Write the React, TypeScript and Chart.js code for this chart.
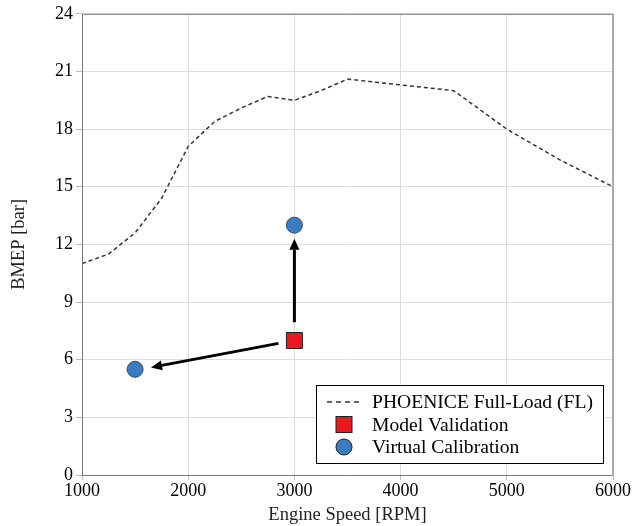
import React, { useEffect, useRef } from "react";
import { Chart, registerables } from "chart.js";

Chart.register(...registerables);

// Full-load curve (rpm, bar)
const flSpeed = [1000, 1250, 1500, 1750, 2000, 2250, 2500, 2750, 3000, 3250, 3500, 4500, 5000, 5500, 6000];
const flBmep = [11.0, 11.5, 12.6, 14.4, 17.1, 18.4, 19.1, 19.7, 19.5, 20.0, 20.6, 20.0, 18.0, 16.4, 15.0];

// Model validation point
const mvSpeed = [3000];
const mvBmep = [7];

// Virtual calibration points
const vcSpeed = [1500, 3000];
const vcBmep = [5.5, 13];

// Arrows: from -> to (rpm, bar)
const arrowFromSpeed = [2850, 3000];
const arrowFromBmep = [6.85, 7.95];
const arrowToSpeed = [1650, 3000];
const arrowToBmep = [5.6, 12.3];

const legendLabels = ["PHOENICE Full-Load (FL)", "Model Validation", "Virtual Calibration"];

const RED = "#e8191e";
const BLUE = "#3a7cbf";
const FONT = "'Liberation Serif', 'Times New Roman', serif";

Chart.defaults.font.family = FONT;

const framePlugin = {
  id: "frame",
  afterDatasetsDraw(chart: any) {
    const { ctx, chartArea: a, scales } = chart;
    const xs = scales.x, ys = scales.y;
    ctx.save();
    // arrows
    ctx.strokeStyle = "#000";
    ctx.fillStyle = "#000";
    ctx.lineWidth = 3;
    for (let i = 0; i < arrowFromSpeed.length; i++) {
      const x1 = xs.getPixelForValue(arrowFromSpeed[i]);
      const y1 = ys.getPixelForValue(arrowFromBmep[i]);
      const x2 = xs.getPixelForValue(arrowToSpeed[i]);
      const y2 = ys.getPixelForValue(arrowToBmep[i]);
      const ang = Math.atan2(y2 - y1, x2 - x1);
      const hl = 11, hw = 5;
      const bx = x2 - hl * Math.cos(ang), by = y2 - hl * Math.sin(ang);
      ctx.beginPath();
      ctx.moveTo(x1, y1);
      ctx.lineTo(bx, by);
      ctx.stroke();
      ctx.beginPath();
      ctx.moveTo(x2, y2);
      ctx.lineTo(bx + hw * Math.sin(ang), by - hw * Math.cos(ang));
      ctx.lineTo(bx - hw * Math.sin(ang), by + hw * Math.cos(ang));
      ctx.closePath();
      ctx.fill();
    }
    // frame
    ctx.lineWidth = 1;
    ctx.strokeStyle = "#777";
    ctx.beginPath();
    ctx.moveTo(a.left + 0.5, a.bottom + 0.5);
    ctx.lineTo(a.left + 0.5, a.top + 0.5);
    ctx.lineTo(a.right, a.top + 0.5);
    ctx.moveTo(a.left, a.bottom + 0.5);
    ctx.lineTo(a.right, a.bottom + 0.5);
    ctx.stroke();
    ctx.strokeStyle = "#aaa";
    ctx.lineWidth = 2;
    ctx.beginPath();
    ctx.moveTo(a.right, a.top);
    ctx.lineTo(a.right, a.bottom + 1);
    ctx.stroke();

    // legend
    const R = a.right - 10, B = a.bottom - 12;
    const W = 287, H = 78;
    const L = R - W, T = B - H;
    ctx.fillStyle = "#fff";
    ctx.fillRect(L, T, W, H);
    ctx.strokeStyle = "#000";
    ctx.lineWidth = 1;
    ctx.strokeRect(L + 0.5, T + 0.5, W, H);
    const symX = L + 28;
    const textX = L + 56;
    const rows = [T + 17, T + 39.5, T + 62];
    ctx.font = `19.6px ${FONT}`;
    ctx.textBaseline = "middle";
    ctx.textAlign = "left";
    // dashed line
    ctx.strokeStyle = "#333";
    ctx.lineWidth = 1.5;
    ctx.setLineDash([5, 4]);
    ctx.beginPath();
    ctx.moveTo(symX - 17, rows[0]);
    ctx.lineTo(symX + 18, rows[0]);
    ctx.stroke();
    ctx.setLineDash([]);
    // square
    ctx.fillStyle = RED;
    ctx.fillRect(symX - 8, rows[1] - 8, 16, 16);
    ctx.strokeStyle = "#222";
    ctx.lineWidth = 1;
    ctx.strokeRect(symX - 8, rows[1] - 8, 16, 16);
    // circle
    ctx.fillStyle = BLUE;
    ctx.beginPath();
    ctx.arc(symX, rows[2], 8, 0, Math.PI * 2);
    ctx.fill();
    ctx.strokeStyle = "#222";
    ctx.stroke();
    ctx.fillStyle = "#000";
    legendLabels.forEach((t, i) => ctx.fillText(t, textX, rows[i] + 1));
    ctx.restore();
  },
};

export default function App() {
  const ref = useRef<HTMLCanvasElement>(null);
  useEffect(() => {
    if (!ref.current) return;
    const chart = new Chart(ref.current, {
      type: "scatter",
      data: {
        datasets: [
          {
            type: "line",
            label: legendLabels[0],
            data: flSpeed.map((x, i) => ({ x, y: flBmep[i] })),
            borderColor: "#333",
            borderWidth: 1.5,
            borderDash: [4, 3],
            pointRadius: 0,
            fill: false,
            tension: 0,
            order: 3,
          },
          {
            label: legendLabels[1],
            data: mvSpeed.map((x, i) => ({ x, y: mvBmep[i] })),
            pointStyle: "rect",
            pointRadius: 11.3,
            backgroundColor: RED,
            borderColor: "#222",
            borderWidth: 1,
            order: 1,
          },
          {
            label: legendLabels[2],
            data: vcSpeed.map((x, i) => ({ x, y: vcBmep[i] })),
            pointStyle: "circle",
            pointRadius: 8,
            backgroundColor: BLUE,
            borderColor: "#2a4d70",
            borderWidth: 1,
            order: 1,
          },
        ],
      },
      options: {
        animation: false,
        responsive: false,
        maintainAspectRatio: false,
        layout: { padding: { top: 12, right: 22, left: 0, bottom: 0 } },
        plugins: { legend: { display: false }, tooltip: { enabled: false } },
        scales: {
          x: {
            type: "linear",
            min: 1000,
            max: 6000,
            ticks: {
              stepSize: 1000,
              color: "#000",
              font: { family: FONT, size: 18 },
              padding: 0,
              maxRotation: 0,
              callback: (v: any) => String(v),
            },
            grid: { color: "#dddddd", tickLength: 5, tickColor: "#bbb" },
            border: { display: false },
            title: { display: true, text: "Engine Speed [RPM]", color: "#222", font: { family: FONT, size: 18.5 }, padding: { top: 0, bottom: 0 } },
            afterFit(s: any) { s.height = 51; },
          },
          y: {
            type: "linear",
            min: 0,
            max: 24,
            ticks: {
              stepSize: 3,
              color: "#000",
              font: { family: FONT, size: 18 },
              padding: 3,
              callback: (v: any) => String(v),
            },
            grid: { color: "#dddddd", tickLength: 6, tickColor: "#bbb" },
            border: { display: false },
            title: { display: true, text: "BMEP [bar]", color: "#222", font: { family: FONT, size: 18.5 }, padding: { top: 8, bottom: 0 } },
            afterFit(s: any) { s.width = 82; },
          },
        },
      },
      plugins: [framePlugin],
    } as any);
    return () => chart.destroy();
  }, []);
  return (
    <div style={{ position: "fixed", left: 0, top: 0, width: 635, height: 526, background: "#fff" }}>
      <canvas ref={ref} width={635} height={526} style={{ width: 635, height: 526 }} />
    </div>
  );
}
